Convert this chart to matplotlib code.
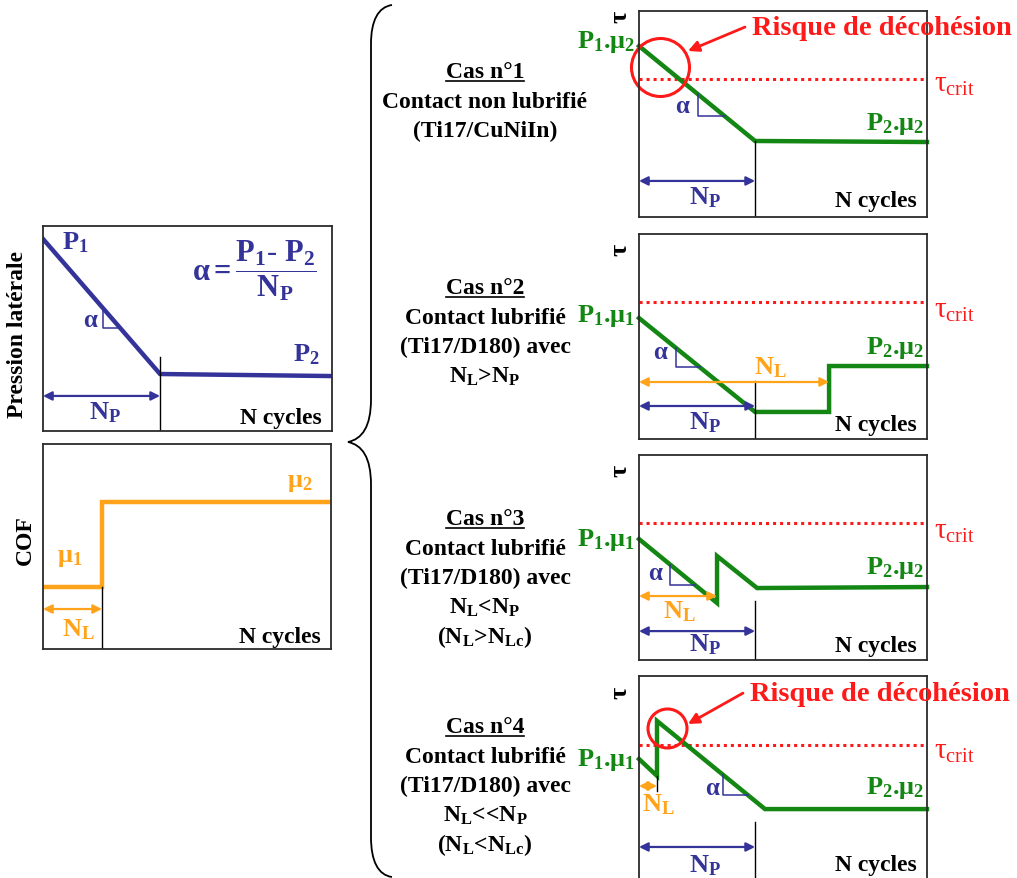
import matplotlib.pyplot as plt
import numpy as np
from matplotlib.path import Path
from matplotlib.patches import PathPatch
from matplotlib.lines import Line2D

plt.rcParams['font.family'] = ['Liberation Serif', 'DejaVu Serif']
plt.rcParams['font.weight'] = 'bold'
plt.rcParams['mathtext.fontset'] = 'custom'
plt.rcParams['mathtext.rm'] = 'Liberation Serif:weight=normal'
plt.rcParams['mathtext.bf'] = 'Liberation Serif:weight=bold'
plt.rcParams['mathtext.it'] = 'Liberation Serif:italic'
plt.rcParams['mathtext.default'] = 'bf'

W, H = 1017, 879
BLUE = '#333399'
GREEN = '#138613'
ORANGE = '#ffa31a'
RED = '#ff1a1a'

# data, in % of panel width / height
press_x = [0, 40.5, 100]
press_y = [93.7, 27.8, 26.8]
n_p_left = 40.5

cof_x = [0, 20.5, 20.5, 100]
cof_y = [30.2, 30.2, 71.7, 71.7]
n_l_left = 20.5

cas_titles = ['Cas n°1', 'Cas n°2', 'Cas n°3', 'Cas n°4']
cas_lines = [
    ['Contact non lubrifié', '(Ti17/CuNiIn)'],
    ['Contact lubrifié', '(Ti17/D180) avec', '$N_L$>$N_P$'],
    ['Contact lubrifié', '(Ti17/D180) avec', '$N_L$<$N_P$', '($N_L$>$N_{Lc}$)'],
    ['Contact lubrifié', '(Ti17/D180) avec', '$N_L$<<$N_P$', '($N_L$<$N_{Lc}$)'],
]

tau_x = [
    [0, 40.3, 100],
    [0, 40.3, 66.0, 66.0, 100],
    [0, 27.1, 27.1, 41.0, 100],
    [0, 6.25, 6.25, 43.75, 100],
]
tau_y = [
    [83.0, 36.9, 36.4],
    [59.0, 13.2, 13.2, 35.6, 35.6],
    [59.0, 27.8, 50.7, 35.1, 35.6],
    [59.7, 51.5, 78.2, 35.4, 35.4],
]
tau_crit = [67.0, 66.8, 66.8, 66.5]
n_p = [40.3, 40.3, 40.3, 40.3]
n_l = [None, 66.0, 27.1, 6.25]
start_labels = ['$P_1$.$μ_2$', '$P_1$.$μ_1$', '$P_1$.$μ_1$', '$P_1$.$μ_1$']
end_label = '$P_2$.$μ_2$'


fig = plt.figure(figsize=(W / 100, H / 100), dpi=100)
bg = fig.add_axes([0, 0, 1, 1], zorder=-1)
bg.set_xlim(0, W)
bg.set_ylim(H, 0)
bg.axis('off')


def panel(x0, y0, x1, y1):
    ax = fig.add_axes([x0 / W, 1 - y1 / H, (x1 - x0) / W, (y1 - y0) / H])
    ax.set_xlim(0, 100)
    ax.set_ylim(0, 100)
    ax.set_xticks([])
    ax.set_yticks([])
    for s in ax.spines.values():
        s.set_linewidth(1.3)
        s.set_color('#2b2b2b')
    return ax


def darrow(ax, x0, x1, y, color):
    ax.annotate('', xy=(x1, y), xytext=(x0, y), annotation_clip=False,
                arrowprops=dict(arrowstyle='<|-|>', color=color, lw=1.6,
                                mutation_scale=13, shrinkA=0, shrinkB=0))


def alpha_tri(ax, xs, ys, xa, xb):
    # small slope triangle under the descending segment
    slope = (ys[1] - ys[0]) / (xs[1] - xs[0])
    ya = ys[0] + slope * (xa - xs[0])
    yb = ys[0] + slope * (xb - xs[0])
    ax.plot([xa, xa, xb], [ya, yb, yb], color=BLUE, lw=1.1)


def ncycles(ax, y):
    ax.text(96.5, y, 'N cycles', ha='right', va='center', fontsize=17)


# ---- left: lateral pressure
ax = panel(43, 227, 332, 432)
ax.plot(press_x, press_y, color=BLUE, lw=3.2, solid_joinstyle='miter')
ax.plot([n_p_left, n_p_left], [0, 36.1], color='black', lw=1)
darrow(ax, 0, n_p_left, 17.1, BLUE)
alpha_tri(ax, press_x[:2], press_y[:2], 20.8, 26.8)
ax.text(16.3, 54.6, 'α', color=BLUE, fontsize=18, ha='center', va='center')
ax.text(6.6, 92.5, '$P_1$', color=BLUE, fontsize=19, ha='left', va='center')
ax.text(95.8, 37.6, '$P_2$', color=BLUE, fontsize=19, ha='right', va='center')
ax.text(73, 78.5, r'$α = \dfrac{P_1\text{-}\ P_2}{N_P}$', color=BLUE, fontsize=22,
        ha='center', va='center')
ax.text(21.5, 9.3, '$N_P$', color=BLUE, fontsize=19, ha='center', va='center')
ncycles(ax, 6.8)
fig.text(18 / W, 1 - 335 / H, 'Pression latérale', rotation=90, ha='center',
         va='center', fontsize=17)

# ---- left: COF
ax = panel(43, 445, 331, 650)
ax.plot(cof_x, cof_y, color=ORANGE, lw=3.2, solid_joinstyle='miter')
ax.plot([n_l_left, n_l_left], [0, cof_y[1]], color='black', lw=1)
darrow(ax, 0, n_l_left, 19.5, ORANGE)
ax.text(9.4, 44.9, '$μ_1$', color=ORANGE, fontsize=19, ha='center', va='center')
ax.text(89.2, 81.5, '$μ_2$', color=ORANGE, fontsize=19, ha='center', va='center')
ax.text(12.2, 9.8, '$N_L$', color=ORANGE, fontsize=19, ha='center', va='center')
ncycles(ax, 6.3)
fig.text(25 / W, 1 - 540 / H, 'COF', rotation=90, ha='center', va='center',
         fontsize=17)

# ---- right: shear stress cases
boxes = [(639, 12, 927, 218), (639, 235, 927, 440), (639, 456, 927, 661),
         (639, 677, 927, 883)]
np_y = [17.5, 16.1, 14.1, 17.0]
np_top = [36.9, 28.3, 28.8, 29.1]
nl_y = [None, 27.8, 31.2, 46.6]
nl_lab = [None, (45.5, 35.1), (14.2, 23.9), (6.6, 37.9)]
start_y = [85.5, 60.5, 59.0, 59.7]
end_y = [45.6, 44.9, 45.4, 46.1]
alpha_pos = [(14.9, 53.9), (7.3, 42.9), (5.6, 42.9), (25.3, 46.1)]
tri = [(20.5, 29.9), (12.8, 21.2), (10.8, 19.4), (29.2, 37.8)]
seg = [0, 0, 0, 2]
np_lab_y = [9.7, 8.3, 7.8, 8.3]
nc_y = [7.8, 7.3, 7.3, 8.3]
crit_lab_y = [64.6, 63.4, 63.4, 63.6]
tau_lab_y = [97.5, 92.5, 92.5, 92.5]
risk = {0: ((7.3, 72.8), 58, (36.8, 92.2), (17.0, 80.6)),
        3: ((9.7, 74.8), 39, (36.1, 91.7), (17.0, 76.7))}

for i, box in enumerate(boxes):
    ax = panel(*box)
    xs, ys = tau_x[i], tau_y[i]
    ax.plot([0, 100], [tau_crit[i]] * 2, color=RED, lw=2.2, ls=(0, (1, 1.3)))
    ax.plot(xs, ys, color=GREEN, lw=3.2, solid_joinstyle='miter', clip_on=False)
    ax.plot([n_p[i], n_p[i]], [0, np_top[i]], color='black', lw=1)
    darrow(ax, 0, n_p[i], np_y[i], BLUE)
    ax.text(22.9, np_lab_y[i], '$N_P$', color=BLUE, fontsize=19, ha='center',
            va='center')
    if n_l[i] is not None:
        darrow(ax, 0, n_l[i], nl_y[i], ORANGE)
        ax.text(*nl_lab[i], '$N_L$', color=ORANGE, fontsize=19, ha='center',
                va='center')
    if i == 3:
        ax.plot([n_l[i], n_l[i]], [44.2, ys[1]], color='black', lw=1)
    k = seg[i]
    alpha_tri(ax, xs[k:k + 2], ys[k:k + 2], *tri[i])
    ax.text(*alpha_pos[i], 'α', color=BLUE, fontsize=18, ha='center', va='center')
    ax.text(-1.2, start_y[i], start_labels[i], color=GREEN, fontsize=19,
            ha='right', va='center')
    ax.text(99, end_y[i], end_label, color=GREEN, fontsize=19, ha='right',
            va='center')
    ax.text(102.5, crit_lab_y[i], r'$\mathrm{τ_{crit}}$', color=RED, fontsize=21,
            ha='left', va='center')
    ax.text(-6.5, tau_lab_y[i], 'τ', rotation=90, ha='center', va='center',
            fontsize=19, clip_on=False)
    ncycles(ax, nc_y[i])
    if i in risk:
        (cx, cy), d, t0, t1 = risk[i]
        ax.plot(cx, cy, 'o', ms=d * 0.72, mfc='none', mec=RED, mew=2.2,
                clip_on=False)
        ax.annotate('', xy=t1, xytext=t0, annotation_clip=False,
                    arrowprops=dict(arrowstyle='-|>', color=RED, lw=2,
                                    mutation_scale=16, shrinkA=0, shrinkB=0))
        ax.text(t0[0] + 2.4, t0[1], 'Risque de décohésion', color=RED,
                fontsize=20.5, ha='left', va='center', clip_on=False)

# ---- middle text
starts = [73, 289, 520, 728]
titles = []
for y0, title, lines in zip(starts, cas_titles, cas_lines):
    t = fig.text(485 / W, 1 - y0 / H, title, ha='center', va='center', fontsize=17)
    titles.append(t)
    for j, line in enumerate(lines):
        fig.text(485 / W, 1 - (y0 + 29.3 * (j + 1)) / H, line, ha='center',
                 va='center', fontsize=17)

# brace
verts = [(392, 6), (378, 8), (371, 22), (371, 45), (371, 400), (371, 428),
         (362, 440), (348, 443), (362, 446), (371, 458), (371, 486),
         (371, 838), (371, 862), (378, 876), (392, 878)]
codes = [Path.MOVETO, Path.CURVE4, Path.CURVE4, Path.CURVE4, Path.LINETO,
         Path.CURVE4, Path.CURVE4, Path.CURVE4, Path.CURVE4, Path.CURVE4,
         Path.CURVE4, Path.LINETO, Path.CURVE4, Path.CURVE4, Path.CURVE4]
bg.add_patch(PathPatch(Path(verts, codes), fc='none', ec='black', lw=1.3))

# underline the case titles
fig.canvas.draw()
inv = fig.transFigure.inverted()
for t in titles:
    bb = t.get_window_extent().transformed(inv)
    fig.add_artist(Line2D([bb.x0, bb.x1], [bb.y0 + 0.002, bb.y0 + 0.002],
                          transform=fig.transFigure, color='black', lw=1.2))

fig.savefig('out.png', dpi=100)
